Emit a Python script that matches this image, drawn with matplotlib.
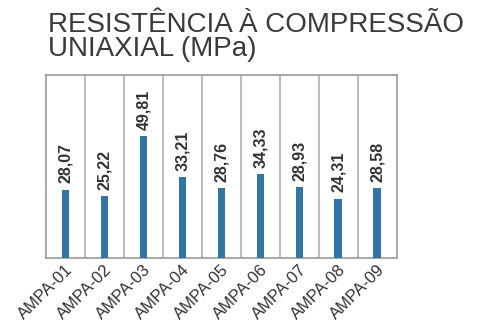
import numpy as np
import matplotlib.pyplot as plt

plt.rcParams['font.family'] = ['Liberation Sans', 'DejaVu Sans']

amostras = ['AMPA-01', 'AMPA-02', 'AMPA-03', 'AMPA-04', 'AMPA-05',
            'AMPA-06', 'AMPA-07', 'AMPA-08', 'AMPA-09']
resistencia = [28.07, 25.22, 49.81, 33.21, 28.76, 34.33, 28.93, 24.31, 28.58]

fig = plt.figure(figsize=(4.84, 3.33), dpi=100)
ax = fig.add_axes([0.095, 0.225, 0.725, 0.55])

x = np.arange(len(amostras))
ax.bar(x, resistencia, width=0.2, color='#3174a6', zorder=3)

# rotulos com virgula decimal
for xi, v in zip(x, resistencia):
    ax.annotate(f'{v:.2f}'.replace('.', ','), (xi, v), xytext=(0, 4.5),
                textcoords='offset points', rotation=90, ha='center', va='bottom',
                fontsize=11.5, fontweight='bold', color='#333333')

ax.set_xlim(-0.5, len(amostras) - 0.5)
ax.set_ylim(0, 75)
ax.set_yticks([])
for b in np.arange(0.5, len(amostras) - 0.5, 1):
    ax.axvline(b, color='#b0b0b0', lw=1.2, zorder=1)
for s in ax.spines.values():
    s.set_color('#999999')
    s.set_linewidth(1.2)

ax.set_xticks(x)
ax.set_xticklabels(amostras, rotation=45, ha='right', rotation_mode='anchor',
                   fontsize=12, color='#333333')
ax.tick_params(axis='x', length=0, pad=3)

fig.text(0.099, 0.965, 'RESISTÊNCIA À COMPRESSÃO\nUNIAXIAL (MPa)', ha='left', va='top',
         fontsize=20, color='#3a3a3a', linespacing=0.9)

plt.savefig('out.png', dpi=100)
